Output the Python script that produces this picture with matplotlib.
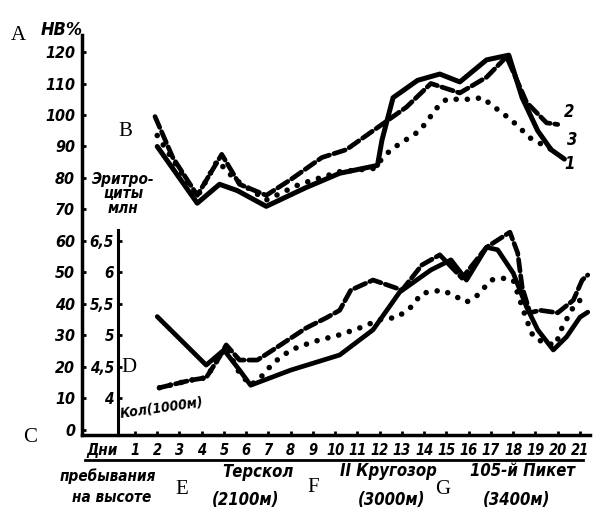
import matplotlib
matplotlib.use('Agg')
import matplotlib.pyplot as plt
from matplotlib.lines import Line2D

W, H = 596, 514

# days on the x axis
days = list(range(1, 22))

# upper curves: Hb %, left scale
hb1_x = [2.0, 3.8, 4.8, 5.6, 6.9, 8.7, 10.2, 11.9, 12.1, 12.6, 13.7, 14.7, 15.6, 16.8, 17.8, 18.4, 19.1, 19.7, 20.3]
hb1_y = [90, 72, 78, 76, 71, 77, 81.5, 84, 92, 105.5, 111, 113, 110.5, 117.5, 119, 105.5, 95, 89, 86]
hb2_x = [1.9, 2.7, 3.8, 4.9, 5.7, 6.9, 8.0, 9.4, 10.5, 11.7, 13.2, 14.3, 15.6, 16.8, 17.7, 18.6, 19.5, 20.0]
hb2_y = [99.5, 86.5, 74.5, 87.5, 78, 74.5, 79.5, 86.5, 89, 95, 102.5, 110, 107, 112, 118.5, 104, 97.5, 97]
hb3_x = [2.0, 3.0, 3.8, 4.7, 5.5, 6.9, 8.4, 10.2, 11.7, 12.5, 13.8, 14.6, 15.0, 16.1, 16.6, 17.9, 18.8, 20.0]
hb3_y = [93.5, 82.5, 74, 85.5, 79.5, 73, 78, 82, 83, 89, 95, 102.5, 105, 105, 105.5, 98.5, 92.5, 88]

# lower curves: erythrocytes (mln), inner scale
er1_x = [2.0, 4.2, 5.0, 5.7, 6.2, 8.0, 10.2, 11.7, 12.9, 14.3, 15.2, 15.9, 16.8, 17.3, 18.0, 18.6, 19.1, 19.8, 20.4, 21.0, 21.35]
er1_y = [5.3, 4.53, 4.77, 4.45, 4.21, 4.45, 4.69, 5.09, 5.69, 6.04, 6.2, 5.88, 6.4, 6.36, 5.99, 5.45, 5.09, 4.77, 4.98, 5.29, 5.37]
er2_x = [2.1, 3.5, 4.2, 4.8, 5.1, 5.7, 6.5, 7.2, 8.7, 9.6, 10.2, 10.7, 11.7, 12.6, 13.0, 13.9, 14.7, 15.7, 16.8, 17.85, 18.2, 18.4, 18.75, 19.2, 20.0, 20.7, 21.1, 21.35]
er2_y = [4.17, 4.29, 4.33, 4.66, 4.85, 4.61, 4.61, 4.77, 5.12, 5.28, 5.40, 5.72, 5.88, 5.77, 5.72, 6.12, 6.28, 5.91, 6.40, 6.64, 6.31, 5.77, 5.36, 5.40, 5.36, 5.56, 5.88, 5.96]
er3_x = [2.1, 3.5, 4.2, 4.8, 5.1, 5.4, 5.7, 6.2, 6.75, 7.2, 8.0, 9.0, 10.2, 11.1, 12.0, 12.8, 13.4, 13.9, 14.8, 15.3, 15.9, 16.4, 17.0, 17.5, 18.0, 18.3, 18.6, 18.9, 19.4, 19.9, 20.2, 20.7, 21.3]
er3_y = [4.17, 4.29, 4.33, 4.66, 4.82, 4.61, 4.40, 4.21, 4.37, 4.56, 4.77, 4.90, 5.01, 5.12, 5.25, 5.29, 5.45, 5.67, 5.72, 5.64, 5.53, 5.64, 5.88, 5.91, 5.88, 5.56, 5.25, 4.98, 4.88, 4.85, 5.13, 5.45, 5.67]

hb_ticks = [0, 10, 20, 30, 40, 50, 60, 70, 80, 90, 100, 110, 120]
er_ticks = [4, 4.5, 5, 5.5, 6, 6.5]
er_labels = ['4', '4,5', '5', '5,5', '6', '6,5']

NARROW = ['Liberation Sans Narrow', 'DejaVu Sans']
SERIF = ['Liberation Serif', 'DejaVu Serif']
bi = dict(family=NARROW, fontweight='bold', style='italic', fontstretch='condensed', color='black')

fig = plt.figure(figsize=(W / 100, H / 100), dpi=100)
ax = fig.add_axes([82 / W, (H - 435) / H, (590 - 82) / W, (435 - 35) / H])
y0, y1 = -1.6, 125.4
ax.set_xlim(-1.38, 21.45)
ax.set_ylim(y0, y1)

ax2 = ax.twinx()
ax2.set_ylim(3.5 + y0 / 20, 3.5 + y1 / 20)

for s in ['top', 'right']:
    ax.spines[s].set_visible(False)
for s in ['left', 'bottom']:
    ax.spines[s].set_linewidth(2.5)
for s in ['top', 'right', 'bottom']:
    ax2.spines[s].set_visible(False)
ax2.spines['left'].set_visible(True)
ax2.spines['left'].set_position(('axes', 36 / 508))
ax2.spines['left'].set_linewidth(2.2)
ax2.spines['left'].set_bounds(3.42, 6.67)
ax2.yaxis.set_ticks_position('left')

ax.set_xticks(days)
ax.set_xticklabels([str(d) for d in days], fontsize=10.5, **bi)
ax.set_yticks(hb_ticks)
ax.set_yticklabels([str(t) for t in hb_ticks], fontsize=11.5, **bi)
ax.tick_params(axis='both', direction='in', length=3, width=2)
ax.tick_params(axis='y', pad=5)
ax.tick_params(axis='x', pad=6)

ax2.set_yticks(er_ticks)
ax2.set_yticklabels(er_labels, fontsize=11, **bi)
ax2.tick_params(axis='y', direction='in', length=3, width=2, pad=3)

# upper curves
ax.plot(hb1_x, hb1_y, color='black', lw=3.6, solid_capstyle='round', solid_joinstyle='round')
ax.plot(hb2_x, hb2_y, color='black', lw=3.4, linestyle=(0, (2.5, 1.0)), dash_capstyle='round')
ax.plot(hb3_x, hb3_y, color='black', lw=4.0, linestyle=(0, (0.01, 2.0)), dash_capstyle='round')

# lower curves
ax2.plot(er1_x, er1_y, color='black', lw=3.4, solid_capstyle='round', solid_joinstyle='round')
ax2.plot(er2_x, er2_y, color='black', lw=3.4, linestyle=(0, (2.5, 1.0)), dash_capstyle='round')
ax2.plot(er3_x, er3_y, color='black', lw=4.0, linestyle=(0, (0.01, 2.0)), dash_capstyle='round')


def ft(x, y, s, **kw):
    fig.text(x / W, 1 - y / H, s, ha='center', va='center', **kw)


ft(62, 30, 'НВ%', fontsize=13, **bi)
ft(123, 194, 'Эритро-\nциты\nмлн', fontsize=11, linespacing=0.95, **bi)
ft(162, 408, 'Кол(1000м)', fontsize=10, rotation=8, **bi)

# curve numbers
ft(569, 112, '2', fontsize=12, **bi)
ft(572, 140, '3', fontsize=12, **bi)
ft(570, 164, '1', fontsize=12, **bi)

# bottom captions
ft(102, 450, 'Дни', fontsize=11, **bi)
ft(108, 476, 'пребывания', fontsize=11, **bi)
ft(112, 497, 'на высоте', fontsize=11, **bi)
ft(258, 472, 'Терскол', fontsize=12, **bi)
ft(246, 500, '(2100м)', fontsize=12, **bi)
ft(388, 471, 'II Кругозор', fontsize=12, **bi)
ft(392, 500, '(3000м)', fontsize=12, **bi)
ft(523, 471, '105-й Пикет', fontsize=12, **bi)
ft(517, 500, '(3400м)', fontsize=12, **bi)

fig.add_artist(Line2D([85 / W, 583 / W], [1 - 460 / H, 1 - 460 / H], color='black', lw=2))

# panel letters
for ch, (x, y) in {'A': (18, 36), 'B': (125, 132), 'C': (30, 437), 'D': (129, 368),
                   'E': (182, 490), 'F': (313, 487), 'G': (443, 490)}.items():
    ft(x, y, ch, fontsize=15, family=SERIF, color='black')

fig.savefig('out.png', dpi=100)
